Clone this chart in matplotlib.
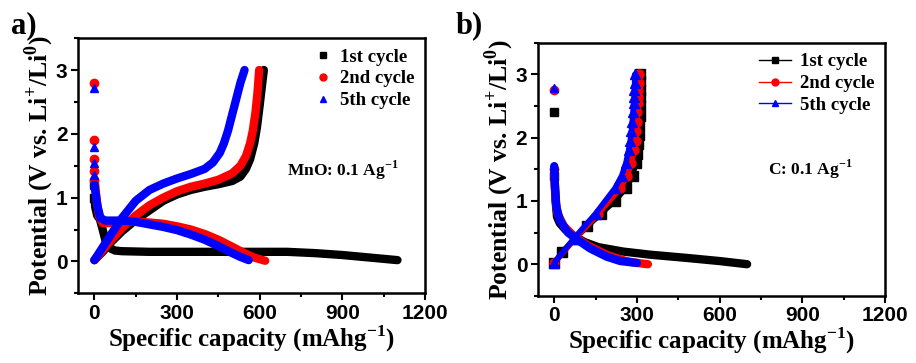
import matplotlib
matplotlib.use("Agg")
import matplotlib.pyplot as plt
from matplotlib.ticker import MultipleLocator

# ---- panel a: MnO, 0.1 A/g ----
# discharge / charge branches (capacity mAh/g, potential V)
a1_dis_x = [0, 0, 3, 10, 20, 30, 40, 50, 60, 75, 100, 200, 300, 400, 500, 600, 700, 800, 900, 1000, 1100]
a1_dis_y = [1.22, 1.0, 0.85, 0.72, 0.66, 0.5, 0.33, 0.24, 0.2, 0.17, 0.16, 0.15, 0.15, 0.15, 0.15, 0.15, 0.15, 0.13, 0.1, 0.06, 0.02]
a1_chg_x = [0, 30, 60, 100, 150, 200, 250, 300, 350, 400, 450, 500, 530, 550, 565, 580, 590, 600, 608, 615]
a1_chg_y = [0.02, 0.15, 0.3, 0.47, 0.65, 0.8, 0.95, 1.05, 1.12, 1.17, 1.21, 1.26, 1.33, 1.45, 1.6, 1.85, 2.1, 2.45, 2.75, 3.0]

a2_dis_x = [0, 0, 0, 0, 0, 5, 10, 18, 30, 60, 100, 150, 200, 250, 300, 350, 400, 450, 500, 540, 580, 620]
a2_dis_y = [2.8, 1.9, 1.6, 1.42, 1.27, 1.1, 0.9, 0.7, 0.6, 0.6, 0.62, 0.62, 0.61, 0.59, 0.55, 0.5, 0.43, 0.34, 0.23, 0.14, 0.06, 0.01]
a2_chg_x = [0, 30, 60, 100, 150, 200, 250, 300, 350, 400, 450, 500, 530, 550, 565, 575, 585, 592, 598]
a2_chg_y = [0.02, 0.17, 0.33, 0.52, 0.72, 0.88, 1.0, 1.1, 1.17, 1.22, 1.28, 1.38, 1.5, 1.65, 1.85, 2.05, 2.35, 2.65, 3.0]

a5_dis_x = [0, 0, 0, 0, 0, 5, 12, 22, 40, 100, 150, 200, 250, 300, 350, 400, 450, 500, 530, 560]
a5_dis_y = [2.72, 1.8, 1.55, 1.35, 1.2, 1.05, 0.85, 0.68, 0.64, 0.64, 0.62, 0.58, 0.54, 0.49, 0.42, 0.34, 0.24, 0.13, 0.07, 0.02]
a5_chg_x = [0, 30, 60, 100, 150, 200, 250, 300, 350, 400, 430, 455, 470, 485, 500, 515, 530, 545]
a5_chg_y = [0.02, 0.22, 0.42, 0.68, 0.95, 1.12, 1.22, 1.3, 1.37, 1.45, 1.55, 1.7, 1.85, 2.05, 2.3, 2.55, 2.8, 3.0]

# ---- panel b: C, 0.1 A/g ----
b1_dis_x = [0, 0, 2, 5, 10, 20, 40, 70, 110, 160, 250, 350, 480, 600, 700]
b1_dis_y = [2.4, 1.4, 1.3, 1.0, 0.75, 0.65, 0.55, 0.45, 0.35, 0.27, 0.2, 0.15, 0.1, 0.05, 0.0]
b1_chg_x = [0, 30, 75, 120, 170, 220, 260, 285, 295, 300, 304, 307, 309, 310, 311, 312, 312, 312, 312]
b1_chg_y = [0.02, 0.2, 0.4, 0.6, 0.8, 1.0, 1.2, 1.4, 1.6, 1.75, 1.9, 2.05, 2.2, 2.35, 2.5, 2.65, 2.75, 2.9, 3.0]

b2_dis_x = [0, 0, 2, 5, 12, 35, 70, 120, 190, 260, 300, 340]
b2_dis_y = [2.75, 1.5, 1.25, 1.0, 0.8, 0.6, 0.45, 0.3, 0.15, 0.05, 0.02, 0.0]
b2_chg_x = [0, 75, 160, 240, 265, 280, 290, 295, 298, 300, 302, 303, 304, 305, 306, 306]
b2_chg_y = [0.02, 0.4, 0.8, 1.2, 1.4, 1.6, 1.8, 1.95, 2.1, 2.25, 2.4, 2.55, 2.65, 2.75, 2.87, 3.0]

b5_dis_x = [0, 0, 3, 8, 20, 50, 80, 130, 190, 240, 300]
b5_dis_y = [2.78, 1.55, 1.2, 0.9, 0.7, 0.5, 0.4, 0.25, 0.12, 0.05, 0.02]
b5_chg_x = [0, 70, 150, 220, 245, 260, 270, 276, 280, 283, 286, 288, 290, 291, 292, 292]
b5_chg_y = [0.02, 0.4, 0.8, 1.2, 1.4, 1.6, 1.8, 1.95, 2.1, 2.25, 2.4, 2.55, 2.65, 2.75, 2.87, 3.0]

LABELS = ["1st cycle", "2nd cycle", "5th cycle"]
COLORS = ["black", "red", "blue"]
MARKERS = ["s", "o", "^"]

SERIF = "Liberation Serif"
SANS = "Liberation Sans"

plt.rcParams["mathtext.fontset"] = "custom"
plt.rcParams["mathtext.rm"] = SERIF
plt.rcParams["mathtext.bf"] = SERIF + ":bold"

fig = plt.figure(figsize=(9.16, 3.63), dpi=100)
ax_a = fig.add_axes([0.085, 0.192, 0.379, 0.703])
ax_b = fig.add_axes([0.587, 0.185, 0.379, 0.697])


def style_axes(ax):
    ax.set_xlim(-60, 1200)
    ax.set_ylim(-0.5, 3.5)
    ax.xaxis.set_major_locator(MultipleLocator(300))
    ax.xaxis.set_minor_locator(MultipleLocator(150))
    ax.yaxis.set_major_locator(MultipleLocator(1))
    ax.yaxis.set_minor_locator(MultipleLocator(0.5))
    ax.tick_params(which="both", direction="out", top=False, right=False, width=1.5)
    ax.tick_params(which="major", length=5, labelsize=15, pad=2.5)
    ax.tick_params(which="minor", length=3)
    for lab in ax.get_xticklabels() + ax.get_yticklabels():
        lab.set_fontfamily(SANS)
        lab.set_fontweight("bold")
    for sp in ax.spines.values():
        sp.set_linewidth(1.8)
    ax.set_xlabel("Specific capacity (mAhg$^{\\mathbf{-1}}$)", fontsize=18,
                  fontfamily=SERIF, fontweight="bold", labelpad=0.5)
    ax.set_ylabel("Potential (V vs. Li$^{\\mathbf{+}}$/Li$^{\\mathbf{0}}$)", fontsize=18.5,
                  fontfamily=SERIF, fontweight="bold", labelpad=0)


# panel a: dense markers drawn as a thick band
series_a = [(a1_dis_x, a1_dis_y, a1_chg_x, a1_chg_y),
            (a2_dis_x, a2_dis_y, a2_chg_x, a2_chg_y),
            (a5_dis_x, a5_dis_y, a5_chg_x, a5_chg_y)]
for i, (dx, dy, cx, cy) in enumerate(series_a):
    c = COLORS[i]
    k = 1 if i == 0 else 4
    ax_a.plot(dx[:k + 1], dy[:k + 1], color=c, ls="none", marker=MARKERS[i], ms=6)
    ax_a.plot(dx[k:], dy[k:], color=c, lw=6, solid_capstyle="round", solid_joinstyle="round")
    ax_a.plot(cx, cy, color=c, lw=6, solid_capstyle="round", solid_joinstyle="round")
    ax_a.plot([], [], color=c, ls="none", marker=MARKERS[i], ms=5, label=LABELS[i])

series_b = [(b1_dis_x, b1_dis_y, b1_chg_x, b1_chg_y),
            (b2_dis_x, b2_dis_y, b2_chg_x, b2_chg_y),
            (b5_dis_x, b5_dis_y, b5_chg_x, b5_chg_y)]
for i, (dx, dy, cx, cy) in enumerate(series_b):
    c = COLORS[i]
    ax_b.plot(dx[:2], dy[:2], color=c, ls="none", marker=MARKERS[i], ms=6)
    ax_b.plot(dx[1:], dy[1:], color=c, lw=6, solid_capstyle="round", solid_joinstyle="round")
    ax_b.plot(cx, cy, color=c, lw=4, marker=MARKERS[i], ms=6.5, solid_capstyle="round")
    ax_b.plot([], [], color=c, lw=1, marker=MARKERS[i], ms=5, label=LABELS[i])

for ax in (ax_a, ax_b):
    style_axes(ax)
    ax.legend(loc="upper right", frameon=False, handlelength=1.7 if ax is ax_b else 0.8,
              handletextpad=0.5, labelspacing=0.25, borderaxespad=0.15,
              prop={"family": SERIF, "weight": "bold", "size": 13.5})

ax_a.text(700, 1.42, "MnO: 0.1 Ag$^{\\mathbf{-1}}$", fontsize=12.5, fontfamily=SERIF,
          fontweight="bold", va="center")
ax_b.text(775, 1.5, "C: 0.1 Ag$^{\\mathbf{-1}}$", fontsize=12.5, fontfamily=SERIF,
          fontweight="bold", va="center")

fig.text(0.012, 0.93, "a)", fontsize=22, fontfamily=SERIF, fontweight="bold", va="center")
fig.text(0.497, 0.93, "b)", fontsize=22, fontfamily=SERIF, fontweight="bold", va="center")

fig.savefig("out.png", dpi=100)
